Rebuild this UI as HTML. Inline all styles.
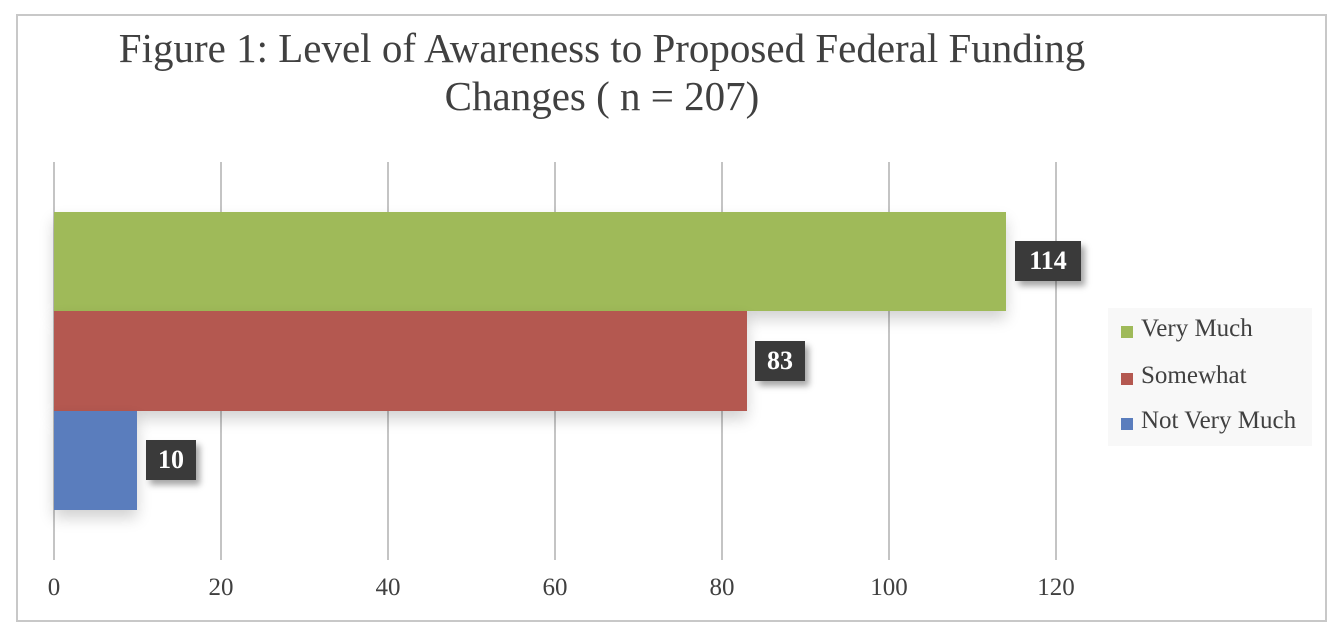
<!DOCTYPE html>
<html><head><style>
body{margin:0;background:#fff;width:1340px;height:638px;position:relative;overflow:hidden;font-family:"Liberation Serif",serif;}
.frame{position:absolute;left:16px;top:14px;width:1311px;height:608px;border:2px solid #c8c8c8;box-sizing:border-box;}
.t{position:absolute;left:0;width:1204px;text-align:center;font-size:41px;color:#404040;}
.g{position:absolute;top:162px;height:398px;width:2px;background:#c4c4c4;}
.bar{position:absolute;left:54px;box-shadow:0 8px 14px rgba(0,0,0,0.18);}
.lbl{position:absolute;background:#3a3a3a;color:#fff;font-weight:bold;font-size:26px;text-align:center;line-height:40px;height:40px;box-shadow:4px 5px 6px rgba(0,0,0,0.35);}
.tick{position:absolute;top:574px;font-size:25px;color:#404040;width:80px;text-align:center;}
.leg{position:absolute;left:1108px;top:308px;width:204px;height:138px;background:#f8f8f8;}
.li{position:absolute;left:33px;font-size:25px;color:#404040;}
.sw{position:absolute;top:11px;width:12px;height:12px;}
</style></head><body>
<div class="frame"></div>
<div class="t" style="top:24px;">Figure 1: Level of Awareness to Proposed Federal Funding</div>
<div class="t" style="top:72px;">Changes ( n = 207)</div>
<div class="g" style="left:53px"></div><div class="g" style="left:220px"></div><div class="g" style="left:387px"></div><div class="g" style="left:554px"></div><div class="g" style="left:721px"></div><div class="g" style="left:888px"></div><div class="g" style="left:1055px"></div>
<div class="bar" style="top:212px;height:99px;width:952px;background:#9fba59"></div>
<div class="bar" style="top:311px;height:100px;width:693px;background:#b45850"></div>
<div class="bar" style="top:411px;height:99px;width:83px;background:#5a7dbd"></div>
<div class="lbl" style="left:1015px;top:241px;width:66px">114</div>
<div class="lbl" style="left:755px;top:341px;width:50px">83</div>
<div class="lbl" style="left:146px;top:440px;width:50px">10</div>
<div class="tick" style="left:14px">0</div><div class="tick" style="left:181px">20</div><div class="tick" style="left:348px">40</div><div class="tick" style="left:515px">60</div><div class="tick" style="left:682px">80</div><div class="tick" style="left:849px">100</div><div class="tick" style="left:1016px">120</div>
<div class="leg">
<div class="li" style="top:7px"><span class="sw" style="left:-20px;background:#9fba59"></span>Very Much</div>
<div class="li" style="top:54px"><span class="sw" style="left:-20px;background:#b45850"></span>Somewhat</div>
<div class="li" style="top:99px"><span class="sw" style="left:-20px;background:#5a7dbd"></span>Not Very Much</div>
</div>
</body></html>
